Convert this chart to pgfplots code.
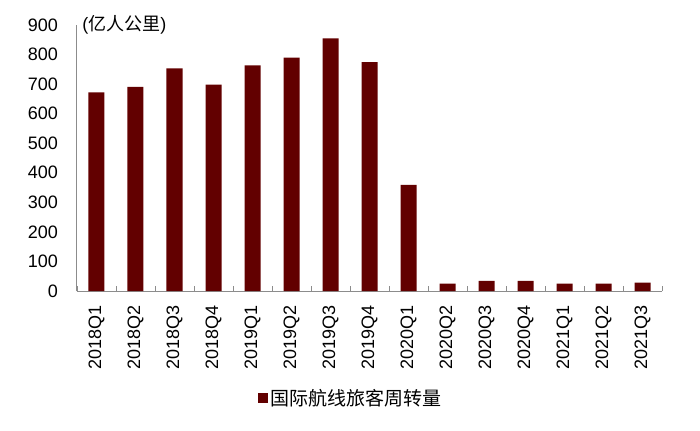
\documentclass[border=0pt]{standalone}
\usepackage{pgfplots}
\pgfplotsset{compat=1.18}
\usepackage{fontspec}
\setmainfont{Liberation Sans}
\newfontfamily\cjk{Noto Sans CJK SC}
\definecolor{barred}{RGB}{98,0,0}
\definecolor{axgrey}{RGB}{140,140,140}
\begin{document}
\begin{tikzpicture}
\path[use as bounding box] (-77bp,-140bp) rectangle (623bp,291bp);
\begin{axis}[
  scale only axis,
  width=585bp, height=266bp,
  xmin=-0.5, xmax=14.5,
  ymin=0, ymax=900,
  ytick={0,100,...,900},
  xtick={0,...,14},
  xticklabels={2018Q1,2018Q2,2018Q3,2018Q4,2019Q1,2019Q2,2019Q3,2019Q4,2020Q1,2020Q2,2020Q3,2020Q4,2021Q1,2021Q2,2021Q3},
  minor xtick={-0.5,0.5,...,14.5},
  major tick length=0pt,
  minor tick length=5bp,
  tick align=inside,
  xtick pos=bottom, ytick pos=left,
  axis x line*=bottom, axis y line*=left,
  axis line style={axgrey, line width=1bp},
  every tick/.style={axgrey, line width=0.8bp},
  minor tick style={axgrey, line width=0.8bp},
  /pgf/number format/assume math mode=true,
  yticklabel style={font=\fontsize{18bp}{20bp}\selectfont, inner sep=0pt, anchor=east},
  yticklabel shift=19bp,
  xticklabel style={font=\fontsize{18bp}{20bp}\selectfont, inner sep=0pt, rotate=90, anchor=east},
  xticklabel shift=14bp,
  legend style={at={(0.468,-0.402)}, anchor=center, draw=none, fill=none,
    font=\fontsize{19bp}{21bp}\selectfont\cjk, inner sep=0pt},
  legend image code/.code={\fill[barred] (-5bp,-5bp) rectangle (5bp,5bp);},
  clip=false,
]
\addplot[ybar, bar width=16bp, fill=barred, draw=none] coordinates {
(0,672) (1,691) (2,753) (3,698) (4,763) (5,790) (6,855) (7,774)
(8,359) (9,25) (10,34) (11,34) (12,25) (13,25) (14,28)
};
\addlegendentry{国际航线旅客周转量}
\node[anchor=west, inner sep=0pt, font=\fontsize{18bp}{20bp}\selectfont] at (rel axis cs:0.009,1) {(\cjk 亿人公里\rmfamily)};
\end{axis}
\end{tikzpicture}
\end{document}
